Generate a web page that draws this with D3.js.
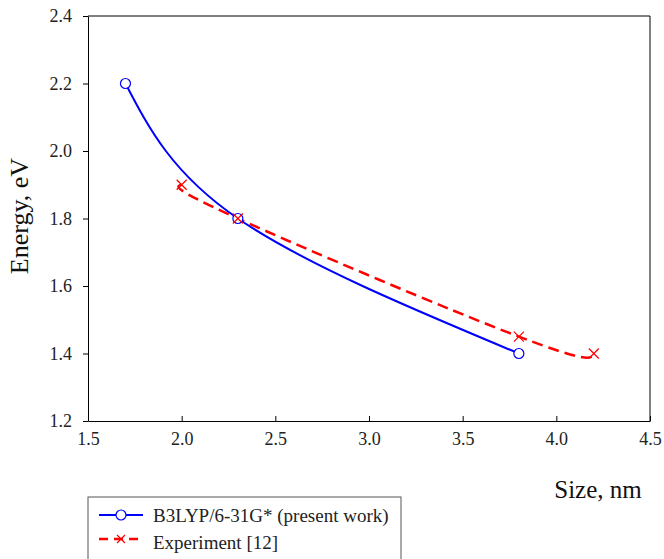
<!DOCTYPE html>
<html>
<head>
<meta charset="utf-8">
<script src="https://cdn.jsdelivr.net/npm/d3@7"></script>
<style>
  body { margin: 0; background: #fff; }
  svg { display: block; }
  text { font-family: "Liberation Serif", "DejaVu Serif", serif; }
</style>
</head>
<body>
<svg width="664" height="559"></svg>
<script>
// data
var calcSize = [1.7, 2.3, 3.8];
var calcEnergy = [2.2, 1.8, 1.4];
var expSize = [2.0, 2.3, 3.8, 4.2];
var expEnergy = [1.9, 1.8, 1.45, 1.4];
var xTicks = [1.5, 2.0, 2.5, 3.0, 3.5, 4.0, 4.5];
var yTicks = [1.2, 1.4, 1.6, 1.8, 2.0, 2.2, 2.4];
var seriesNames = ["B3LYP/6-31G* (present work)", "Experiment [12]"];

var svg = d3.select("svg"),
    pLeft = 88, pRight = 650, pTop = 16, pBottom = 421;

var x = d3.scaleLinear().domain([1.5, 4.5]).range([pLeft, pRight]);
var y = d3.scaleLinear().domain([1.2, 2.4]).range([pBottom, pTop]);

var fmt = d3.format(".1f");

// frame
svg.append("path")
  .attr("d", "M" + pLeft + "," + pTop + "H" + pRight + "V" + pBottom)
  .attr("fill", "none")
  .attr("stroke", "#000")
  .attr("stroke-width", 1);

var xAxis = svg.append("g")
  .attr("transform", "translate(0," + pBottom + ")")
  .call(d3.axisBottom(x).tickValues(xTicks).tickFormat(fmt).tickSizeInner(-5).tickSizeOuter(0).tickPadding(11));
var yAxis = svg.append("g")
  .attr("transform", "translate(" + pLeft + ",0)")
  .call(d3.axisLeft(y).tickValues(yTicks).tickFormat(fmt).tickSizeInner(5).tickSizeOuter(0).tickPadding(11));

[xAxis, yAxis].forEach(function(a) {
  a.attr("font-family", null);
  a.selectAll("text")
    .style("font-size", "18px")
    .attr("fill", "#222");
  a.select(".domain").attr("stroke", "#000");
});

svg.append("text")
  .attr("transform", "translate(28," + 216 + ") rotate(-90)")
  .attr("text-anchor", "middle")
  .style("font-size", "26px")
  .attr("fill", "#111")
  .text("Energy, eV");

svg.append("text")
  .attr("x", 598)
  .attr("y", 498)
  .attr("text-anchor", "middle")
  .style("font-size", "25px")
  .attr("fill", "#111")
  .text("Size, nm");

var calc = calcSize.map(function(d, i) { return [d, calcEnergy[i]]; });
var exp = expSize.map(function(d, i) { return [d, expEnergy[i]]; });

var line = d3.line()
  .x(function(d) { return x(d[0]); })
  .y(function(d) { return y(d[1]); })
  .curve(d3.curveNatural);

svg.append("path")
  .datum(exp)
  .attr("d", line)
  .attr("fill", "none")
  .attr("stroke", "#ff0000")
  .attr("stroke-width", 2.5)
  .attr("stroke-dasharray", "11,6");

svg.append("path")
  .datum(calc)
  .attr("d", line)
  .attr("fill", "none")
  .attr("stroke", "#0000ff")
  .attr("stroke-width", 2);

function cross(g, cx, cy, s) {
  g.append("path")
    .attr("d", "M" + (cx - s) + "," + (cy - s) + "L" + (cx + s) + "," + (cy + s) +
               "M" + (cx - s) + "," + (cy + s) + "L" + (cx + s) + "," + (cy - s))
    .attr("stroke", "#ff0000")
    .attr("stroke-width", 1.2)
    .attr("fill", "none");
}

svg.selectAll("circle.calc")
  .data(calc)
  .enter().append("circle")
  .attr("class", "calc")
  .attr("cx", function(d) { return x(d[0]); })
  .attr("cy", function(d) { return y(d[1]); })
  .attr("r", 5)
  .attr("fill", "#fff")
  .attr("stroke", "#0000ff")
  .attr("stroke-width", 1.2);

var marks = svg.append("g");
exp.forEach(function(d) { cross(marks, x(d[0]), y(d[1]), 5); });

// legend
var lg = svg.append("g").attr("transform", "translate(88,497)");
lg.append("rect")
  .attr("x", 0).attr("y", 0)
  .attr("width", 313).attr("height", 70)
  .attr("fill", "#fff")
  .attr("stroke", "#555")
  .attr("stroke-width", 1);

lg.append("line").attr("x1", 11).attr("x2", 55).attr("y1", 18).attr("y2", 18)
  .attr("stroke", "#0000ff").attr("stroke-width", 2);
lg.append("circle").attr("cx", 33).attr("cy", 18).attr("r", 5)
  .attr("fill", "#fff").attr("stroke", "#0000ff").attr("stroke-width", 1.2);
lg.append("line").attr("x1", 11).attr("x2", 55).attr("y1", 42).attr("y2", 42)
  .attr("stroke", "#ff0000").attr("stroke-width", 2.5).attr("stroke-dasharray", "9,6");
cross(lg, 33, 42, 4);

lg.selectAll("text.leg")
  .data(seriesNames)
  .enter().append("text")
  .attr("class", "leg")
  .attr("x", 65)
  .attr("y", function(d, i) { return 25 + i * 27; })
  .style("font-size", "19px")
  .attr("fill", "#222")
  .text(function(d) { return d; });
</script>
</body>
</html>
